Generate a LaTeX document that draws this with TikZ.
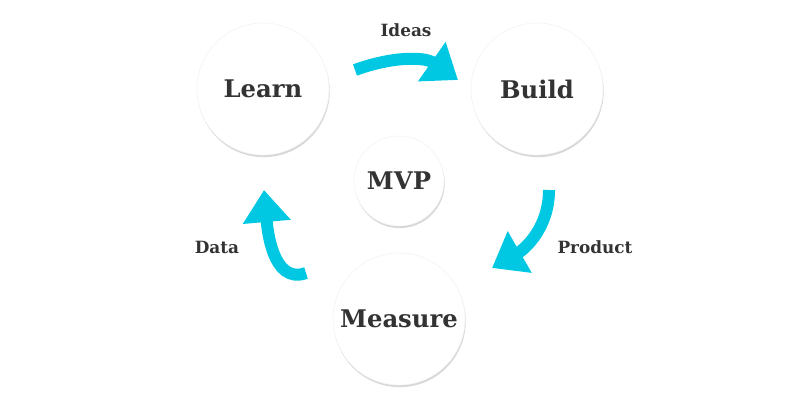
\documentclass[tikz,border=0pt]{standalone}
\usepackage{fontspec}
\setmainfont{DejaVu Serif}
\usetikzlibrary{arrows.meta,shadows}

\definecolor{loopcyan}{HTML}{00C8E2}
\tikzset{
  stage/.style={circle,fill=white,draw=gray!10,minimum size=3.3cm,
    drop shadow={shadow xshift=0.5pt,shadow yshift=-1.5pt,opacity=0.45,fill=gray!70},
    font=\bfseries\LARGE,text=black!80},
  hub/.style={stage,minimum size=2.25cm},
  loop/.style={draw=loopcyan,line width=0.3cm,
    -{Triangle[length=0.8cm,width=1.15cm]},line cap=butt},
  tag/.style={font=\bfseries\large,text=black!80}
}

\begin{document}
\begin{tikzpicture}[x=0.025cm,y=-0.025cm]
  \useasboundingbox (0,0) rectangle (800,400);
  \node[stage] (learn) at (263,89) {Learn};
  \node[stage] (build) at (537,89) {Build};
  \node[hub] (mvp) at (399,181) {MVP};
  \node[stage] (measure) at (399,319) {Measure};
  % cycle arrows
  \coordinate (i1) at (355,70);
  \coordinate (i2) at (458,80);
  \coordinate (p1) at (549,190);
  \coordinate (p2) at (492,268);
  \coordinate (d1) at (306,273);
  \coordinate (d2) at (264,190);
  \draw[loop] (i1) to[out=20,in=145] (i2);
  \draw[loop] (p1) to[out=-90,in=30] (p2);
  \draw[loop] (d1) to[out=200,in=-85] (d2);
  \node[tag] (ideas) at (406,30) {Ideas};
  \node[tag] (product) at (595,247) {Product};
  \node[tag] (data) at (217,247) {Data};
\end{tikzpicture}
\end{document}
